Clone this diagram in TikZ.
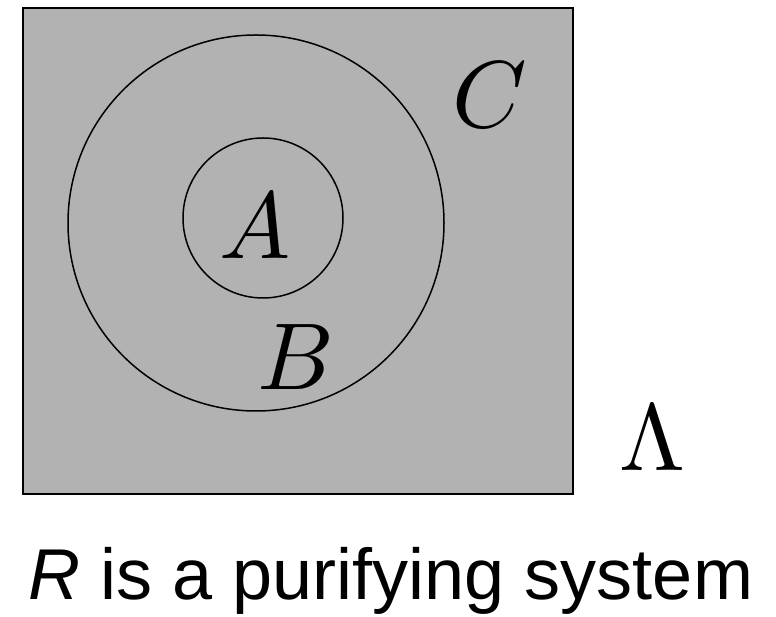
\documentclass[tikz,border=0pt]{standalone}
\usepackage{fontspec}
\newfontfamily\captionfont{Liberation Sans}
\begin{document}
\begin{tikzpicture}[x=1pt,y=1pt,
  region/.style={draw=black,line width=1.5pt},
  lbl/.style={inner sep=0pt},
  captext/.style={font=\captionfont\fontsize{72}{80}\selectfont, anchor=base}]
\useasboundingbox (0,0) rectangle (776,617);
\node[draw=black,line width=2pt,fill=black!30,minimum width=550pt,minimum height=486pt,inner sep=0pt] (box) at (298,366) {};
\node[region,circle,minimum size=376pt,inner sep=0pt] (outer) at (256,394) {};
\node[region,circle,minimum size=160pt,inner sep=0pt] (inner) at (263,399) {};
\node[lbl] (A) at (255,391) {\scalebox{9.5}{$A$}};
\node[lbl] (B) at (296,260) {\scalebox{9.5}{$B$}};
\node[lbl] (C) at (490,522) {\scalebox{9.5}{$C$}};
\node[lbl] (L) at (652,179) {\scalebox{9.5}{$\Lambda$}};
\node[captext] (t) at (391,17) {\textit{R} is a purifying system};
\end{tikzpicture}
\end{document}
